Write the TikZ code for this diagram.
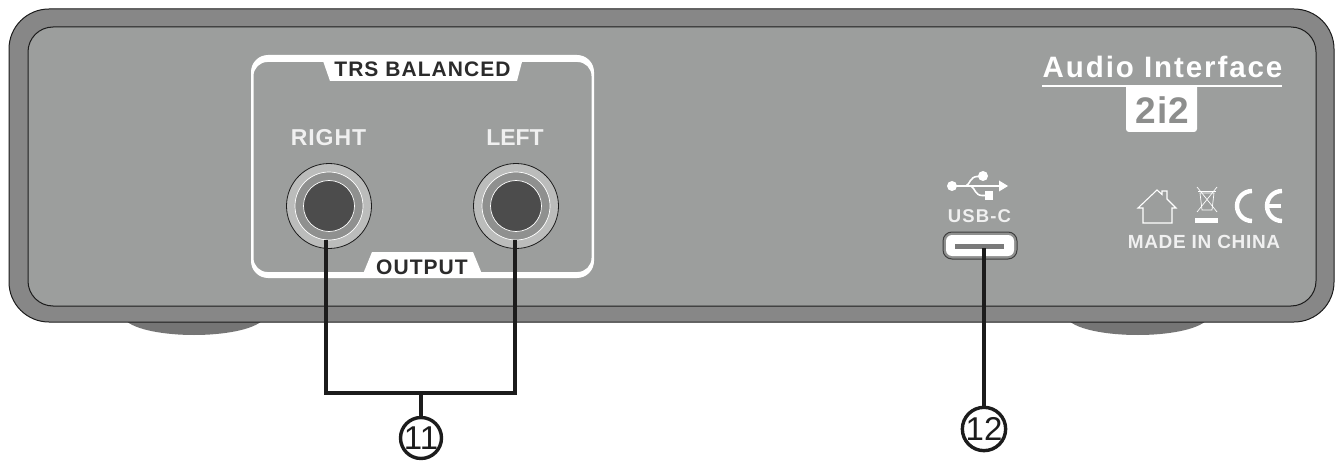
\documentclass[tikz,border=0pt]{standalone}
\usepackage{fontspec}
\setmainfont{Liberation Sans}
\usetikzlibrary{calc}
\definecolor{bodyband}{HTML}{878787}
\definecolor{facec}{HTML}{9C9E9D}
\definecolor{footc}{HTML}{757575}
\definecolor{inkc}{HTML}{1C1C1C}
\definecolor{jackring}{HTML}{BBBCBB}
\definecolor{jackmid}{HTML}{8F908F}
\definecolor{jackhole}{HTML}{4C4C4C}
\definecolor{labeldark}{HTML}{2B2B2B}
\newcommand{\lbl}[2]{\fontsize{#1}{#1}\selectfont\bfseries\addfontfeatures{LetterSpace=#2}}
\tikzset{
  x=1pt,y=-1pt,
  edgeline/.style={draw=inkc,line width=1pt},
  panelwhite/.style={fill=white,draw=none},
  conn/.style={draw=inkc,line width=3.4pt,line cap=butt,line join=miter},
  badge/.style={circle,draw=inkc,line width=3.4pt,fill=white,minimum size=40pt,inner sep=0pt,font=\fontsize{33}{33}\selectfont,text=inkc},
  txt/.style={inner sep=0pt,outer sep=0pt,anchor=center},
  ring1/.style={circle,draw=inkc,line width=.8pt,fill=jackring,minimum size=85pt,inner sep=0pt},
  ring2/.style={circle,draw=white,line width=.7pt,fill=jackmid,minimum size=68pt,inner sep=0pt},
  ring3/.style={circle,draw=white,line width=.7pt,fill=jackhole,minimum size=51pt,inner sep=0pt},
  sym/.style={draw=white,line width=1.1pt,fill=none},
  symthin/.style={draw=white,line width=.7pt,fill=none},
  cearc/.style={draw=white,line width=4.4pt,line cap=butt},
}
\begin{document}
\begin{tikzpicture}
\useasboundingbox (0,0) rectangle (1342,468);
\fill[white] (0,0) rectangle (1342,468);
% feet
\fill[footc] (125,320) .. controls (135,330) and (165,335) .. (194,335) .. controls (223,335) and (253,330) .. (263,320) -- cycle;
\fill[footc] (1068,320) .. controls (1078,330) and (1108,335) .. (1138,335) .. controls (1167,335) and (1197,330) .. (1207,320) -- cycle;
% body
\draw[edgeline,fill=bodyband,rounded corners=40pt] (9,9) rectangle (1334,322);
\draw[edgeline,fill=facec,rounded corners=25pt] (28,27) rectangle (1316,306);
% panel frame
\path[panelwhite,even odd rule,fill=white]
  [rounded corners=17pt] (251,55) rectangle (594,278)
  [rounded corners=14pt] (253.5,62) rectangle (591.5,272);
\path[panelwhite] (322,58) -- (523,58) -- (517,81) -- (330,81) -- cycle;
\path[panelwhite] (372,252) -- (473,252) -- (482,274) -- (363,274) -- cycle;
\node[txt,text=labeldark] (trs) at (422.5,69) {\lbl{21}{5}TRS BALANCED};
\node[txt,text=labeldark] (outp) at (422,267.5) {\lbl{21}{5}OUTPUT};
\node[txt,text=white!94!black] (rlab) at (328.5,137.5) {\lbl{23}{4}RIGHT};
\node[txt,text=white!94!black] (llab) at (515,137.5) {\lbl{23}{0}LEFT};
% jacks
\node[ring1] (jackR) at (329,206) {};
\node[ring2] (jackRm) at (329,206) {};
\node[ring3] (jackRi) at (329,206) {};
\node[ring1] (jackL) at (516,206) {};
\node[ring2] (jackLm) at (516,206) {};
\node[ring3] (jackLi) at (516,206) {};
% brand
\node[txt,text=white] (brand) at (1162.5,67) {\lbl{29.5}{6.5}Audio Interface};
\path[fill=white] (1126,86) [rounded corners=3pt] -- (1126,132) -- (1197,132) [sharp corners] -- (1197,86) -- cycle;
\draw[white,line width=1.7pt] (1042,86) -- (1282,86);
\node[txt,text=facec!90!black] (model) at (1162.5,110) {\lbl{37}{3.5}2i2};
% USB symbol
\fill[white] (952,186) circle[radius=5];
\draw[white,line width=1.6pt] (952,186) -- (1001,186);
\fill[white] (999,180.5) -- (1008,186) -- (999,191.5) -- cycle;
\draw[white,line width=1.6pt] (966,186) .. controls (970,184) and (970,177) .. (977,176.5) -- (983,176.5);
\fill[white] (983,176) circle[radius=5];
\draw[white,line width=1.6pt] (971,186) .. controls (975,188) and (975,195.5) .. (982,195.5) -- (987,195.5);
\fill[white] (985,191.5) rectangle (993,200);
\node[txt,text=white!94!black] (usbtxt) at (979.5,216) {\lbl{18.5}{6}USB-C};
% USB port
\node[draw=inkc!85!white,line width=1pt,fill=jackmid,rounded corners=9pt,minimum width=74pt,minimum height=27pt,inner sep=0pt] (usbport) at (980,245.5) {};
\node[fill=white,rounded corners=6pt,minimum width=68pt,minimum height=21pt,inner sep=0pt] (usbinner) at (usbport.center) {};
\fill[jackmid!85!black] (955,243.5) rectangle (1004,249);
% house
\draw[sym,line join=miter] (1143,223) -- (1143,208) -- (1138,208) -- (1157,190) -- (1162,194.5) -- (1162,191) -- (1167,191) -- (1167,199) -- (1176,208) -- (1172,208) -- (1172,223) -- cycle;
% WEEE
\draw[symthin] (1200,193) -- (1214,193) -- (1212,210) -- (1202,210) -- cycle;
\draw[symthin] (1198,191) -- (1216,191);
\draw[symthin] (1197,187) -- (1217,212);
\draw[symthin] (1217,187) -- (1197,212);
\fill[white] (1195,218) rectangle (1218,223);
% CE
\draw[cearc] (1252,191) arc[start angle=-90,end angle=-270,radius=15] ;
\draw[cearc] (1282,191) arc[start angle=-90,end angle=-270,radius=15] ;
\draw[white,line width=3.4pt] (1267,206) -- (1281,206);
\node[txt,text=white!94!black] (made) at (1204,242) {\lbl{19}{3.5}MADE IN CHINA};
% connectors
\node[badge] (b11) at (421,438) {11};
\node[badge] (b12) at (984,429) {12};
\coordinate (rs) at (326,240);
\coordinate (ls) at (515,240);
\coordinate (rb) at (326,393);
\coordinate (lb) at (515,393);
\coordinate (mb) at (421,393);
\coordinate (us) at (984,248);
\draw[conn] (rs) -- (rb) -- (lb) -- (ls);
\draw[conn] (mb) -- (b11.north);
\draw[conn] (us) -- (b12.north);
\end{tikzpicture}
\end{document}
